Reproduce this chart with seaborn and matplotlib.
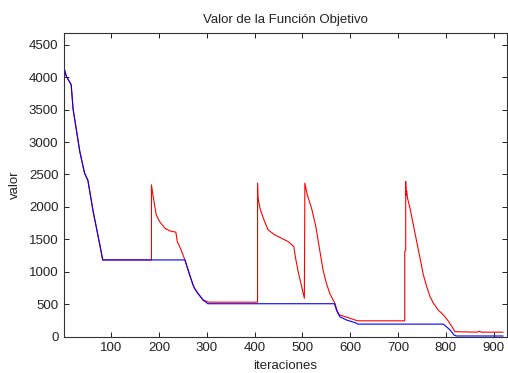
import matplotlib
matplotlib.use("Agg")
import matplotlib.pyplot as plt
import seaborn as sns
import pandas as pd

# ---- data ----
blue_x = [1, 6, 16, 20, 34, 44, 51, 62, 69, 76, 82, 254, 264, 271, 274, 281, 292, 302,
          567, 571, 578, 592, 610, 616, 795, 809, 817, 822, 920]
blue_y = [4142, 4012, 3884, 3510, 2855, 2520, 2410, 1929, 1673, 1415, 1183, 1183, 952, 798, 747, 670, 566, 508,
          508, 412, 309, 258, 216, 194, 194, 103, 26, 11, 11]

red_x = [1, 6, 16, 20, 34, 44, 51, 62, 69, 76, 82,
         184, 184, 187, 194, 201, 212, 222, 235, 238, 243, 250, 254,
         264, 271, 274, 281, 292, 304,
         406, 406, 407, 411, 418, 428, 442, 456, 470, 482, 485, 491, 504,
         505, 510, 519, 528, 536, 543, 550, 557, 564, 568, 573, 578, 596, 610, 615,
         714, 714, 716, 716, 717, 718, 720, 725, 732, 739, 746, 753, 760, 767, 774, 784, 795, 805, 815, 819,
         866, 870, 874, 920]
red_y = [4142, 4012, 3884, 3510, 2855, 2520, 2410, 1929, 1673, 1415, 1183,
         1183, 2341, 2187, 1878, 1775, 1673, 1631, 1611, 1466, 1389, 1261, 1183,
         952, 798, 747, 670, 566, 532,
         532, 2367, 2136, 1981, 1827, 1647, 1569, 1518, 1466, 1389, 1235, 1003, 593,
         2367, 2187, 1981, 1698, 1338, 1029, 824, 670, 566, 515, 386, 335, 293, 258, 245,
         245, 1312, 1330, 2392, 2180, 2250, 2130, 1981, 1724, 1466, 1210, 952, 772, 617, 515, 412, 335, 242, 130, 77,
         70, 85, 70, 70]

x_ticks = [100, 200, 300, 400, 500, 600, 700, 800, 900]
y_ticks = [0, 500, 1000, 1500, 2000, 2500, 3000, 3500, 4000, 4500]

title = "Valor de la Función Objetivo"
x_label = "iteraciones"
y_label = "valor"

# ---- plotting ----
sns.set_style("ticks")
plt.rcParams["font.family"] = ["Liberation Sans", "DejaVu Sans"]

fig = plt.figure(figsize=(5.08, 3.73), dpi=100)
W, H = 508, 373
left, right, top, bottom = 64, 507, 33, 336.7
ax = fig.add_axes([left / W, 1 - bottom / H, (right - left) / W, (bottom - top) / H])

sns.lineplot(x=red_x, y=red_y, color="#ff0000", lw=0.8, estimator=None, sort=False, ax=ax)
sns.lineplot(x=blue_x, y=blue_y, color="#0000ff", lw=0.8, estimator=None, sort=False, ax=ax)

ax.set_xlim(1, 928)
ax.set_ylim(0, 4680)
ax.set_xticks(x_ticks)
ax.set_yticks(y_ticks)
txt = "#222222"
ax.tick_params(direction="in", length=3.8, width=0.7, top=True, right=True,
               labelsize=9.5, colors=txt, pad=4)
for s in ax.spines.values():
    s.set_visible(True)
    s.set_color("#333333")
    s.set_linewidth(0.8)

ax.set_title(title, fontsize=9.5, color=txt, pad=7)
ax.set_xlabel(x_label, fontsize=9.5, color=txt, labelpad=4)
ax.set_ylabel(y_label, fontsize=9.5, color=txt, labelpad=6)

fig.savefig("out.png", dpi=100)
